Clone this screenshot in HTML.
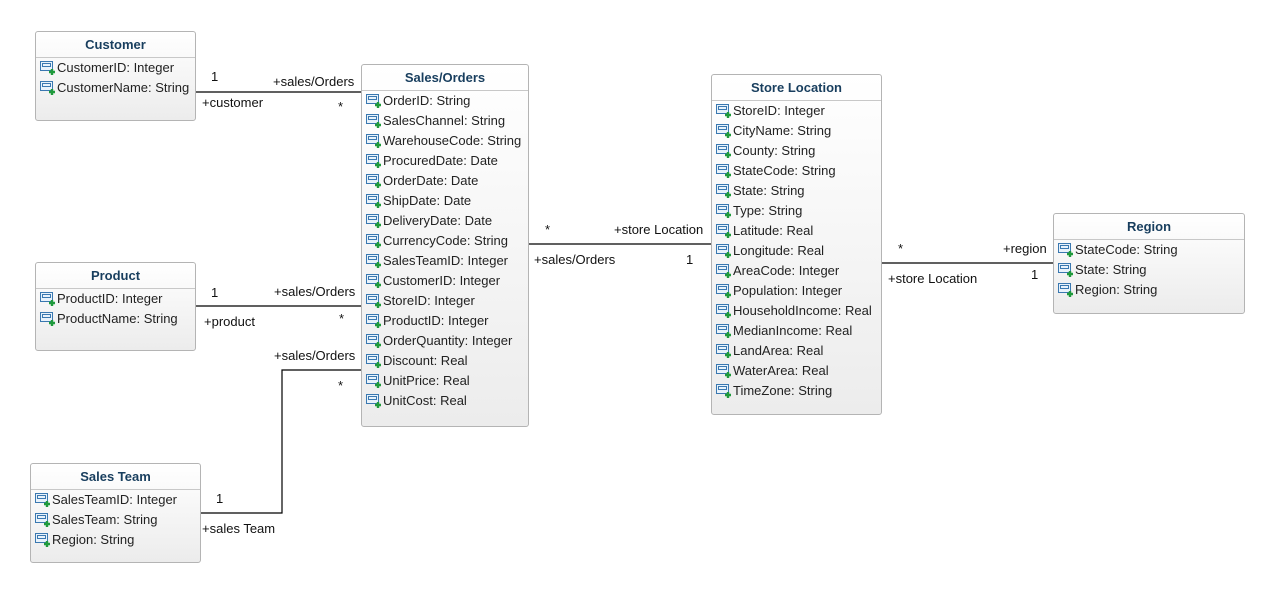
<!DOCTYPE html>
<html><head><meta charset="utf-8"><style>
body{margin:0;width:1274px;height:593px;background:#fff;position:relative;overflow:hidden;font-family:"Liberation Sans",Arial,sans-serif;}
.box{position:absolute;border:1px solid #b4b4b4;border-radius:3px;background:linear-gradient(#ffffff,#ececec);box-sizing:border-box;}
.hd{height:25px;border-bottom:1px solid #c8c8c8;text-align:center;font-weight:bold;font-size:13px;color:#183e5e;line-height:25px;}
.row{height:20px;line-height:20px;font-size:13px;color:#222;padding-left:21px;position:relative;white-space:nowrap;}
.row svg{position:absolute;left:4px;top:3px;}
.lb{position:absolute;font-size:13px;color:#111;white-space:nowrap;line-height:15px;}
</style></head><body>
<svg width="1274" height="593" style="position:absolute;left:0;top:0" fill="none" stroke="#000" stroke-width="1.2">
<path d="M195 92H361"/>
<path d="M195 306H361"/>
<path d="M200 513H282V370H361"/>
<path d="M528 244H711"/>
<path d="M881 263H1053"/>
</svg>
<svg width="0" height="0" style="position:absolute"><defs>
<g id="ic"><rect x="0.5" y="0.5" width="12" height="9" fill="#e8f2fb" stroke="#3a78b0"/><rect x="2.5" y="2.5" width="8" height="3" fill="none" stroke="#3a78b0"/><path d="M9 11h6M12 8v6" stroke="#1f9a3c" stroke-width="2.4"/></g>
</defs></svg>

<div class="box" style="left:35px;top:31px;width:161px;height:90px"><div class="hd">Customer</div><div>
<div class="row"><svg width="16" height="15"><use href="#ic"/></svg>CustomerID: Integer</div>
<div class="row"><svg width="16" height="15"><use href="#ic"/></svg>CustomerName: String</div></div></div>

<div class="box" style="left:35px;top:262px;width:161px;height:89px"><div class="hd">Product</div><div>
<div class="row"><svg width="16" height="15"><use href="#ic"/></svg>ProductID: Integer</div>
<div class="row"><svg width="16" height="15"><use href="#ic"/></svg>ProductName: String</div></div></div>

<div class="box" style="left:30px;top:463px;width:171px;height:100px"><div class="hd">Sales Team</div><div>
<div class="row"><svg width="16" height="15"><use href="#ic"/></svg>SalesTeamID: Integer</div>
<div class="row"><svg width="16" height="15"><use href="#ic"/></svg>SalesTeam: String</div>
<div class="row"><svg width="16" height="15"><use href="#ic"/></svg>Region: String</div></div></div>

<div class="box" style="left:361px;top:64px;width:168px;height:363px"><div class="hd">Sales/Orders</div><div>
<div class="row"><svg width="16" height="15"><use href="#ic"/></svg>OrderID: String</div>
<div class="row"><svg width="16" height="15"><use href="#ic"/></svg>SalesChannel: String</div>
<div class="row"><svg width="16" height="15"><use href="#ic"/></svg>WarehouseCode: String</div>
<div class="row"><svg width="16" height="15"><use href="#ic"/></svg>ProcuredDate: Date</div>
<div class="row"><svg width="16" height="15"><use href="#ic"/></svg>OrderDate: Date</div>
<div class="row"><svg width="16" height="15"><use href="#ic"/></svg>ShipDate: Date</div>
<div class="row"><svg width="16" height="15"><use href="#ic"/></svg>DeliveryDate: Date</div>
<div class="row"><svg width="16" height="15"><use href="#ic"/></svg>CurrencyCode: String</div>
<div class="row"><svg width="16" height="15"><use href="#ic"/></svg>SalesTeamID: Integer</div>
<div class="row"><svg width="16" height="15"><use href="#ic"/></svg>CustomerID: Integer</div>
<div class="row"><svg width="16" height="15"><use href="#ic"/></svg>StoreID: Integer</div>
<div class="row"><svg width="16" height="15"><use href="#ic"/></svg>ProductID: Integer</div>
<div class="row"><svg width="16" height="15"><use href="#ic"/></svg>OrderQuantity: Integer</div>
<div class="row"><svg width="16" height="15"><use href="#ic"/></svg>Discount: Real</div>
<div class="row"><svg width="16" height="15"><use href="#ic"/></svg>UnitPrice: Real</div>
<div class="row"><svg width="16" height="15"><use href="#ic"/></svg>UnitCost: Real</div></div></div>

<div class="box" style="left:711px;top:74px;width:171px;height:341px"><div class="hd">Store Location</div><div>
<div class="row"><svg width="16" height="15"><use href="#ic"/></svg>StoreID: Integer</div>
<div class="row"><svg width="16" height="15"><use href="#ic"/></svg>CityName: String</div>
<div class="row"><svg width="16" height="15"><use href="#ic"/></svg>County: String</div>
<div class="row"><svg width="16" height="15"><use href="#ic"/></svg>StateCode: String</div>
<div class="row"><svg width="16" height="15"><use href="#ic"/></svg>State: String</div>
<div class="row"><svg width="16" height="15"><use href="#ic"/></svg>Type: String</div>
<div class="row"><svg width="16" height="15"><use href="#ic"/></svg>Latitude: Real</div>
<div class="row"><svg width="16" height="15"><use href="#ic"/></svg>Longitude: Real</div>
<div class="row"><svg width="16" height="15"><use href="#ic"/></svg>AreaCode: Integer</div>
<div class="row"><svg width="16" height="15"><use href="#ic"/></svg>Population: Integer</div>
<div class="row"><svg width="16" height="15"><use href="#ic"/></svg>HouseholdIncome: Real</div>
<div class="row"><svg width="16" height="15"><use href="#ic"/></svg>MedianIncome: Real</div>
<div class="row"><svg width="16" height="15"><use href="#ic"/></svg>LandArea: Real</div>
<div class="row"><svg width="16" height="15"><use href="#ic"/></svg>WaterArea: Real</div>
<div class="row"><svg width="16" height="15"><use href="#ic"/></svg>TimeZone: String</div></div></div>

<div class="box" style="left:1053px;top:213px;width:192px;height:101px"><div class="hd">Region</div><div>
<div class="row"><svg width="16" height="15"><use href="#ic"/></svg>StateCode: String</div>
<div class="row"><svg width="16" height="15"><use href="#ic"/></svg>State: String</div>
<div class="row"><svg width="16" height="15"><use href="#ic"/></svg>Region: String</div></div></div>

<div class="lb" style="left:211px;top:69px">1</div>
<div class="lb" style="left:273px;top:74px">+sales/Orders</div>
<div class="lb" style="left:202px;top:95px">+customer</div>
<div class="lb" style="left:338px;top:99px">*</div>

<div class="lb" style="left:211px;top:285px">1</div>
<div class="lb" style="left:274px;top:284px">+sales/Orders</div>
<div class="lb" style="left:204px;top:314px">+product</div>
<div class="lb" style="left:339px;top:311px">*</div>

<div class="lb" style="left:274px;top:348px">+sales/Orders</div>
<div class="lb" style="left:338px;top:378px">*</div>
<div class="lb" style="left:216px;top:491px">1</div>
<div class="lb" style="left:202px;top:521px">+sales Team</div>

<div class="lb" style="left:545px;top:222px">*</div>
<div class="lb" style="left:614px;top:222px">+store Location</div>
<div class="lb" style="left:534px;top:252px">+sales/Orders</div>
<div class="lb" style="left:686px;top:252px">1</div>

<div class="lb" style="left:898px;top:241px">*</div>
<div class="lb" style="left:1003px;top:241px">+region</div>
<div class="lb" style="left:888px;top:271px">+store Location</div>
<div class="lb" style="left:1031px;top:267px">1</div>
</body></html>
